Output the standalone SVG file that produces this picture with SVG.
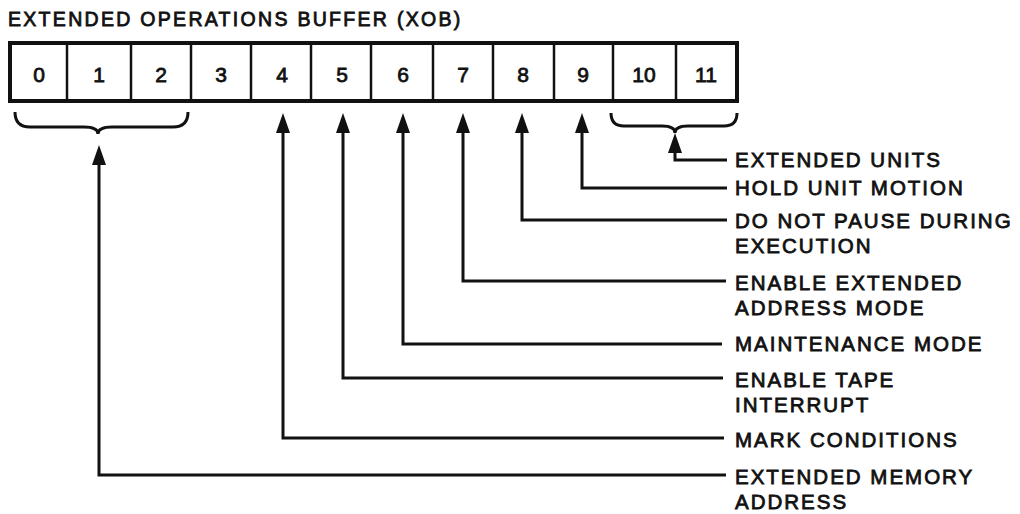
<svg xmlns="http://www.w3.org/2000/svg" width="1020" height="514" viewBox="0 0 1020 514">
<style>
  .bg { fill: #ffffff; }
  .t { font-family: "Liberation Sans", Arial, sans-serif; fill: #111; stroke: #111; stroke-width: 0.8; }
  .title { font-size: 19.5px; letter-spacing: 2.3px; }
  .lbl { font-size: 20.5px; letter-spacing: 2px; }
  .dig { font-size: 21px; text-anchor: middle; }
  .box { fill: #fff; stroke: #111; stroke-width: 4; }
  .div { stroke: #111; stroke-width: 2.5; }
  .wire { fill: none; stroke: #111; stroke-width: 3; stroke-linejoin: miter; }
  .brace { fill: none; stroke: #111; stroke-width: 3; }
</style>
<defs>
  <marker id="ah" markerUnits="userSpaceOnUse" markerWidth="20" markerHeight="14" viewBox="0 0 20 14" refX="13" refY="7" orient="auto">
    <path d="M0,0 L20,7 L0,14 z" fill="#111"/>
  </marker>
</defs>
<rect class="bg" x="0" y="0" width="1020" height="514"/>

<g id="title">
  <text class="t title" x="8" y="26">EXTENDED OPERATIONS BUFFER (XOB)</text>
</g>

<g id="register">
  <rect class="box" x="10" y="43" width="727" height="58"/>
  <g class="div">
    <line x1="67" y1="43" x2="67" y2="101"/>
    <line x1="131" y1="43" x2="131" y2="101"/>
    <line x1="191" y1="43" x2="191" y2="101"/>
    <line x1="251" y1="43" x2="251" y2="101"/>
    <line x1="311" y1="43" x2="311" y2="101"/>
    <line x1="371" y1="43" x2="371" y2="101"/>
    <line x1="433" y1="43" x2="433" y2="101"/>
    <line x1="493" y1="43" x2="493" y2="101"/>
    <line x1="554" y1="43" x2="554" y2="101"/>
    <line x1="613" y1="43" x2="613" y2="101"/>
    <line x1="676" y1="43" x2="676" y2="101"/>
  </g>
  <text class="t dig" x="39" y="82">0</text>
  <text class="t dig" x="99" y="82">1</text>
  <text class="t dig" x="161" y="82">2</text>
  <text class="t dig" x="221" y="82">3</text>
  <text class="t dig" x="282" y="82">4</text>
  <text class="t dig" x="342" y="82">5</text>
  <text class="t dig" x="403" y="82">6</text>
  <text class="t dig" x="463" y="82">7</text>
  <text class="t dig" x="523" y="82">8</text>
  <text class="t dig" x="583" y="82">9</text>
  <text class="t dig" x="644" y="82">10</text>
  <text class="t dig" x="706" y="82">11</text>
</g>

<g id="braces">
  <path class="brace" d="M15,112 Q15,127 30,127 H84 Q98,127 98,134 Q98,127 112,127 H173 Q188,127 188,112"/>
  <path class="brace" d="M611,113 Q611,126 624,126 H662 Q675,126 675,133 Q675,126 688,126 H724 Q737,126 737,113"/>
</g>

<g id="connectors">
  <path class="wire" d="M727,160 H675 V140" marker-end="url(#ah)"/>
  <path class="wire" d="M727,188 H582 V120" marker-end="url(#ah)"/>
  <path class="wire" d="M727,220 H522 V120" marker-end="url(#ah)"/>
  <path class="wire" d="M726,281 H463 V120" marker-end="url(#ah)"/>
  <path class="wire" d="M722,344 H403 V120" marker-end="url(#ah)"/>
  <path class="wire" d="M723,378 H343 V120" marker-end="url(#ah)"/>
  <path class="wire" d="M724,438 H283 V120" marker-end="url(#ah)"/>
  <path class="wire" d="M726,475 H99 V152" marker-end="url(#ah)"/>
</g>

<g id="lbl-extended-units">
  <text class="t lbl" x="735" y="167">EXTENDED UNITS</text>
</g>
<g id="lbl-hold-unit-motion">
  <text class="t lbl" x="735" y="195">HOLD UNIT MOTION</text>
</g>
<g id="lbl-do-not-pause">
  <text class="t lbl" x="735" y="228">DO NOT PAUSE DURING</text>
  <text class="t lbl" x="735" y="253">EXECUTION</text>
</g>
<g id="lbl-enable-extended">
  <text class="t lbl" x="735" y="290">ENABLE EXTENDED</text>
  <text class="t lbl" x="735" y="315">ADDRESS MODE</text>
</g>
<g id="lbl-maintenance">
  <text class="t lbl" x="735" y="351">MAINTENANCE MODE</text>
</g>
<g id="lbl-enable-tape">
  <text class="t lbl" x="735" y="387">ENABLE TAPE</text>
  <text class="t lbl" x="735" y="412">INTERRUPT</text>
</g>
<g id="lbl-mark-conditions">
  <text class="t lbl" x="735" y="447">MARK CONDITIONS</text>
</g>
<g id="lbl-extended-memory">
  <text class="t lbl" x="735" y="484">EXTENDED MEMORY</text>
  <text class="t lbl" x="735" y="509">ADDRESS</text>
</g>
</svg>
